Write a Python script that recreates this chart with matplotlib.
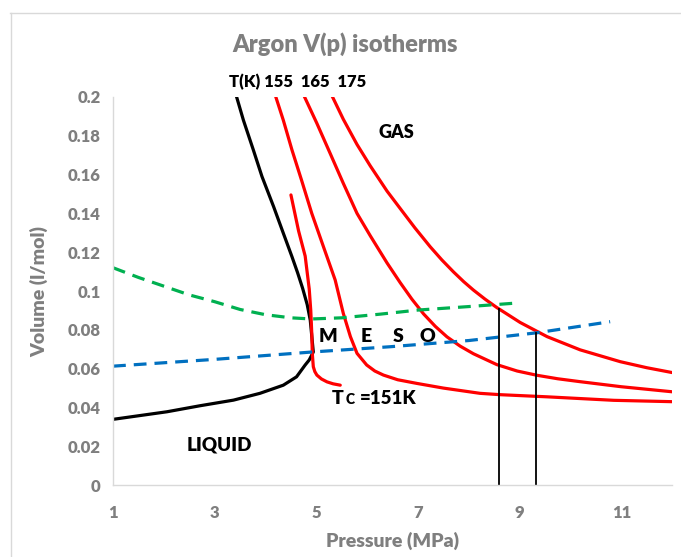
import matplotlib
matplotlib.use("Agg")
import matplotlib.pyplot as plt
from matplotlib.lines import Line2D

plt.rcParams['font.family'] = ['Lato', 'DejaVu Sans']

# ---- data (pressure MPa, volume l/mol) ----
black_p = [3.42, 3.565, 3.76, 3.93, 4.16, 4.35, 4.52, 4.63, 4.73, 4.82, 4.88, 4.94,
           4.86, 4.78, 4.61, 4.35, 3.89, 3.37, 2.71, 2.06, 1.0]
black_v = [0.201, 0.188, 0.1727, 0.159, 0.1434, 0.1298, 0.1177, 0.1095, 0.1014, 0.093, 0.085, 0.0686,
           0.0645, 0.0619, 0.0558, 0.0515, 0.0473, 0.0438, 0.0409, 0.0378, 0.0339]

t151_p = [4.50, 4.65, 4.78, 4.86, 4.89, 4.91, 4.92, 4.94, 4.97, 5.01, 5.10, 5.21, 5.33, 5.47]
t151_v = [0.1495, 0.131, 0.118, 0.101, 0.09, 0.078, 0.0679, 0.061, 0.0585, 0.0567, 0.0547, 0.0532, 0.0522, 0.0515]

t155_p = [4.19, 4.35, 4.52, 4.71, 4.91, 5.14, 5.37, 5.53, 5.67, 5.80, 5.99, 6.15, 6.32, 6.60, 6.98,
          7.50, 8.22, 8.62, 9.54, 10.85, 12.0]
t155_v = [0.201, 0.188, 0.1727, 0.157, 0.140, 0.1228, 0.1057, 0.0885, 0.0765, 0.0679,
          0.0619, 0.0588, 0.0567, 0.0543, 0.0524, 0.0500, 0.0473, 0.0466, 0.0455, 0.0437, 0.0430]

t165_p = [4.75, 5.01, 5.27, 5.53, 5.80, 6.06, 6.39, 6.65, 6.88, 7.11, 7.34, 7.57, 7.83, 8.09, 8.55,
          8.95, 9.34, 9.75, 10.19, 11.0, 12.0]
t165_v = [0.201, 0.1864, 0.171, 0.1555, 0.140, 0.1285, 0.1145, 0.1043, 0.0958, 0.0882, 0.0818, 0.0764,
          0.0716, 0.0677, 0.0621, 0.0588, 0.0566, 0.0548, 0.0533, 0.0507, 0.0481]

t175_p = [5.30, 5.53, 5.80, 6.06, 6.39, 6.65, 6.94, 7.24, 7.47, 7.70, 7.90, 8.09, 8.32, 8.55, 9.01,
          9.54, 10.19, 10.98, 11.5, 12.0]
t175_v = [0.201, 0.1885, 0.1755, 0.1645, 0.1515, 0.1425, 0.1325, 0.1228, 0.1160, 0.1098, 0.1048,
          0.1005, 0.0958, 0.0915, 0.0838, 0.0765, 0.0697, 0.0636, 0.0605, 0.0580]

green_p = [1.0, 1.5, 2.0, 2.5, 3.0, 3.5, 4.0, 4.5, 4.9, 5.5, 6.26, 7.0, 8.0, 8.88]
green_v = [0.112, 0.107, 0.1025, 0.098, 0.0945, 0.0905, 0.0878, 0.0862, 0.0856,
           0.0862, 0.0881, 0.0902, 0.0920, 0.0937]

blue_p = [1.0, 3.0, 4.92, 6.45, 8.0, 9.34, 10.78]
blue_v = [0.0613, 0.0648, 0.0686, 0.0713, 0.0745, 0.0785, 0.0842]

vline1_p = [8.59, 8.59]
vline1_v = [0.0, 0.091]
vline2_p = [9.33, 9.33]
vline2_v = [0.0, 0.0785]

x_ticks = [1, 3, 5, 7, 9, 11]
y_ticks = [0, 0.02, 0.04, 0.06, 0.08, 0.1, 0.12, 0.14, 0.16, 0.18, 0.2]
y_tick_labels = ['0', '0.02', '0.04', '0.06', '0.08', '0.1', '0.12', '0.14', '0.16', '0.18', '0.2']

# ---- figure ----
fig = plt.figure(figsize=(6.81, 5.57), dpi=100)
ax = fig.add_axes([0.166, 0.129, 0.821, 0.697])

RED = '#ff0000'
kw = dict(lw=2.3, solid_capstyle='round', solid_joinstyle='round')
ax.plot(black_p, black_v, color='black', **kw)
ax.plot(t151_p, t151_v, color=RED, **kw)
ax.plot(t155_p, t155_v, color=RED, **kw)
ax.plot(t165_p, t165_v, color=RED, **kw)
ax.plot(t175_p, t175_v, color=RED, **kw)
ax.plot(green_p, green_v, color='#00b050', lw=2.3, dashes=(4, 2.5))
ax.plot(blue_p, blue_v, color='#0070c0', lw=2.3, dashes=(4, 2.5))
ax.plot(vline1_p, vline1_v, color='black', lw=1.3)
ax.plot(vline2_p, vline2_v, color='black', lw=1.3)

ax.set_xlim(1, 12)
ax.set_ylim(0, 0.2)
ax.set_xticks(x_ticks)
ax.set_yticks(y_ticks)
ax.set_yticklabels(y_tick_labels)

GRAY = '#7f7f7f'
for lab in ax.get_xticklabels() + ax.get_yticklabels():
    lab.set_fontweight('heavy')
    lab.set_color(GRAY)
    lab.set_fontsize(12)
ax.tick_params(axis='x', length=0, pad=14)
ax.tick_params(axis='y', length=0, pad=9)

for s in ['top', 'right']:
    ax.spines[s].set_visible(False)
for s in ['left', 'bottom']:
    ax.spines[s].set_color('#d9d9d9')
    ax.spines[s].set_linewidth(1.0)

ax.set_xlabel('Pressure (MPa)', fontsize=14, fontweight='heavy', color=GRAY, labelpad=8)
ax.set_ylabel('Volume (l/mol)', fontsize=14, fontweight='heavy', color=GRAY)
ax.yaxis.set_label_coords(-0.116, 0.5)

fig.text(0.507, 0.921, 'Argon V(p) isotherms', ha='center', va='center',
         fontsize=17, fontweight='heavy', color=GRAY)

# annotations
fig.text(229 / 681, 1 - 82 / 557, 'T(K) 155  165  175', ha='left', va='center',
         fontsize=12, fontweight='heavy', color='black')
fig.text(396 / 681, 1 - 133 / 557, 'GAS', ha='center', va='center',
         fontsize=13, fontweight='heavy', color='black')
for letter, xp in zip(['M', 'E', 'S', 'O'], [328, 366, 398, 427]):
    fig.text(xp / 681, 1 - 337 / 557, letter, ha='center', va='center',
             fontsize=14, fontweight='heavy', color='black')
fig.text(332 / 681, 1 - 398 / 557, 'T', ha='left', va='center',
         fontsize=14, fontweight='heavy', color='black')
fig.text(346 / 681, 1 - 399 / 557, 'C', ha='left', va='center',
         fontsize=10, fontweight='heavy', color='black')
fig.text(360 / 681, 1 - 398 / 557, '=151K', ha='left', va='center',
         fontsize=13.5, fontweight='heavy', color='black')
fig.text(219 / 681, 1 - 445 / 557, 'LIQUID', ha='center', va='center',
         fontsize=13.5, fontweight='heavy', color='black')

# chart-area border (top and left visible)
fig.add_artist(Line2D([10 / 681, 1.0], [1 - 12.5 / 557, 1 - 12.5 / 557],
                      transform=fig.transFigure, color='#d9d9d9', lw=1.0))
fig.add_artist(Line2D([10.5 / 681, 10.5 / 681], [0.0, 1 - 12.5 / 557],
                      transform=fig.transFigure, color='#d9d9d9', lw=1.0))

fig.savefig('out.png', dpi=100)
